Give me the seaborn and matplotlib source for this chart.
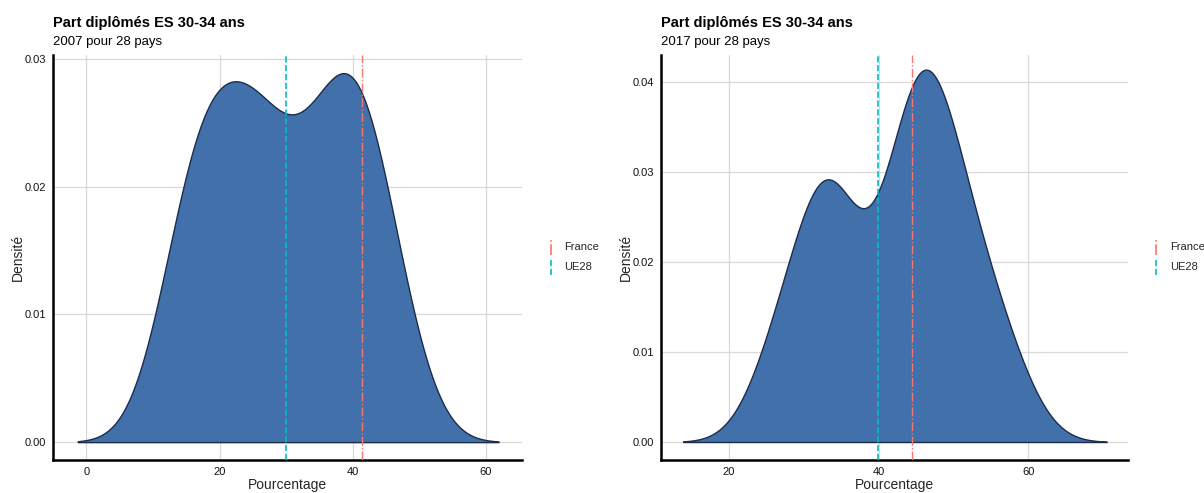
import numpy as np
import pandas as pd
import seaborn as sns
import matplotlib
matplotlib.use("Agg")
import matplotlib.pyplot as plt
from matplotlib.lines import Line2D
from matplotlib.legend_handler import HandlerLine2D

# part des 30-34 ans diplomes de l'enseignement superieur (%), 28 pays UE
pays = ["BE", "BG", "CZ", "DK", "DE", "EE", "IE", "EL", "ES", "FR", "HR", "IT", "CY", "LV",
        "LT", "LU", "HU", "MT", "NL", "AT", "PL", "PT", "RO", "SI", "SK", "FI", "SE", "UK"]
val_2007 = [41.5, 26.0, 13.3, 38.1, 26.5, 33.3, 43.3, 26.3, 40.9, 41.4, 16.7, 18.6, 46.2, 25.7,
            33.0, 35.3, 20.0, 21.1, 36.4, 21.1, 27.0, 19.5, 13.9, 31.0, 14.8, 47.3, 41.0, 38.5]
val_2017 = [45.9, 32.8, 34.2, 48.8, 34.0, 48.4, 53.5, 43.7, 41.2, 44.4, 28.7, 26.9, 55.8, 43.8,
            58.0, 52.7, 32.1, 33.5, 47.9, 40.8, 45.7, 33.5, 26.3, 46.4, 34.3, 44.6, 51.3, 48.3]
annees = ["2007", "2017"]
france = [41.4, 44.4]
ue28 = [30.0, 39.9]

FILL = "#4270aa"
EDGE = "#1c2c4c"
C_FR = "#F8766D"
C_UE = "#00BFC4"


def nrd0_factor(x):
    # bandwidth facon R (bw.nrd0), exprimee en facteur de l'ecart-type
    x = np.asarray(x)
    sd = x.std(ddof=1)
    iqr = np.subtract(*np.percentile(x, [75, 25]))
    bw = 0.9 * min(sd, iqr / 1.34) * len(x) ** -0.2
    return bw / sd


class VLineHandler(HandlerLine2D):
    def create_artists(self, legend, orig, xdescent, ydescent, width, height, fontsize, trans):
        xc = width / 2 - xdescent
        line = Line2D([xc, xc], [-ydescent - 3, height - ydescent + 3],
                      color=orig.get_color(), linestyle=orig.get_linestyle(), linewidth=1.2)
        line.set_transform(trans)
        return [line]


sns.set_style("white")
plt.rcParams["font.family"] = ["Liberation Sans", "DejaVu Sans"]

df = pd.DataFrame({"pays": pays * 2,
                   "annee": ["2007"] * 28 + ["2017"] * 28,
                   "valeur": val_2007 + val_2017})

fig = plt.figure(figsize=(12.04, 4.93), dpi=100)
axes_pos = [[53 / 1204, 1 - 460 / 493, 469 / 1204, 405 / 493],
            [661 / 1204, 1 - 460 / 493, 467 / 1204, 405 / 493]]
xlims = [(-5, 65.4), (10.9, 73.3)]
ylims = [(-0.0014, 0.0303), (-0.002, 0.043)]
xticks = [[0, 20, 40, 60], [20, 40, 60]]
yticks = [[0, 0.01, 0.02, 0.03], [0, 0.01, 0.02, 0.03, 0.04]]

for i, an in enumerate(annees):
    ax = fig.add_axes(axes_pos[i])
    d = df[df["annee"] == an]
    sns.kdeplot(x=d["valeur"], fill=True, bw_method=nrd0_factor(d["valeur"]), cut=3,
                color=FILL, alpha=1, edgecolor=EDGE, linewidth=1, ax=ax, zorder=2)
    l1 = ax.axvline(france[i], color=C_FR, linestyle="-.", linewidth=1, zorder=3)
    l2 = ax.axvline(ue28[i], color=C_UE, linestyle="--", linewidth=1.2, zorder=3)

    ax.set_xlim(xlims[i])
    ax.set_ylim(ylims[i])
    ax.set_xticks(xticks[i])
    ax.set_yticks(yticks[i])
    ax.set_xticklabels([str(t) for t in xticks[i]])
    ax.set_yticklabels([f"{t:.2f}" for t in yticks[i]])
    ax.grid(True, color="#d9d9d9", linewidth=0.9, zorder=0)
    ax.set_axisbelow(True)
    for s in ["top", "right"]:
        ax.spines[s].set_visible(False)
    for s in ["left", "bottom"]:
        ax.spines[s].set_linewidth(1.8)
        ax.spines[s].set_color("black")
    ax.tick_params(axis="both", length=3, width=0.8, color="#333333", labelsize=8,
                   labelcolor="#111111", pad=2)
    ax.set_xlabel("Pourcentage", fontsize=10, labelpad=1)
    ax.set_ylabel("Densité", fontsize=10, labelpad=0)

    ax.text(0.0, 1 + 28 / 405, "Part diplômés ES 30-34 ans", transform=ax.transAxes,
            fontsize=10.5, fontweight="bold", ha="left", va="baseline", color="black")
    ax.text(0.0, 1 + 10 / 405, f"{an} pour 28 pays", transform=ax.transAxes,
            fontsize=9.5, ha="left", va="baseline", color="black")

    ax.legend([l1, l2], ["France", "UE28"], handler_map={Line2D: VLineHandler()},
              loc="center left", bbox_to_anchor=(1.03, 0.5), frameon=False,
              fontsize=8, handlelength=0.8, handletextpad=0.8, labelspacing=0.9)

fig.savefig("out.png", dpi=100)
